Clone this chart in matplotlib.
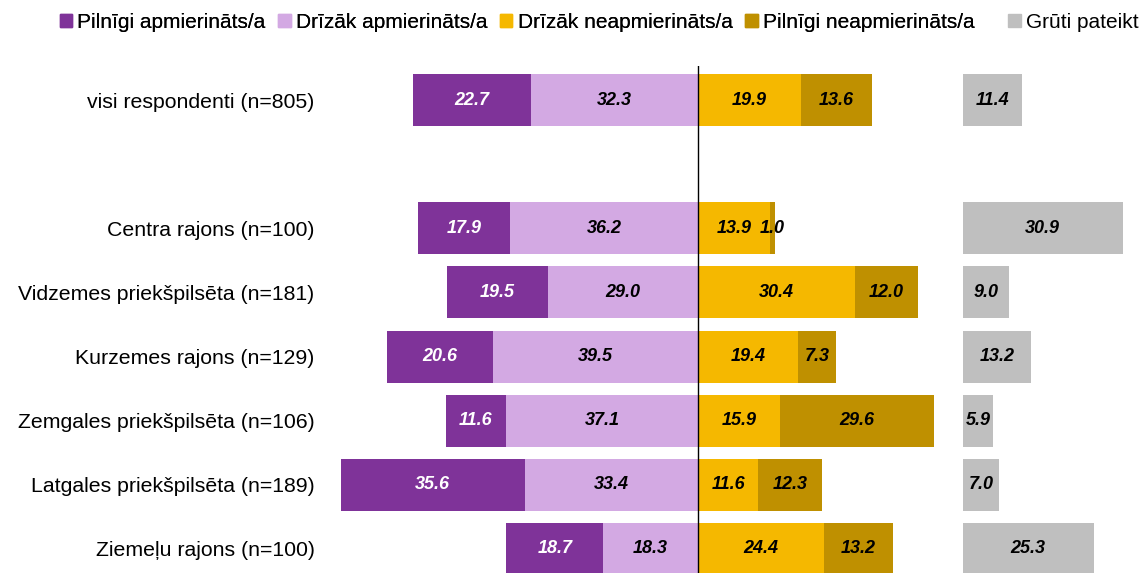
import matplotlib.pyplot as plt
from matplotlib.patches import Patch

plt.rcParams['font.family'] = ['Liberation Sans', 'DejaVu Sans']

# Dati
rindas = ['visi respondenti (n=805)', 'Centra rajons (n=100)',
          'Vidzemes priekšpilsēta (n=181)', 'Kurzemes rajons (n=129)',
          'Zemgales priekšpilsēta (n=106)', 'Latgales priekšpilsēta (n=189)',
          'Ziemeļu rajons (n=100)']
pilnigi_apm = [22.7, 17.9, 19.5, 20.6, 11.6, 35.6, 18.7]
drizak_apm = [32.3, 36.2, 29.0, 39.5, 37.1, 33.4, 18.3]
drizak_neapm = [19.9, 13.9, 30.4, 19.4, 15.9, 11.6, 24.4]
pilnigi_neapm = [13.6, 1.0, 12.0, 7.3, 29.6, 12.3, 13.2]
gruti = [11.4, 30.9, 9.0, 13.2, 5.9, 7.0, 25.3]
kategorijas = ['Pilnīgi apmierināts/a', 'Drīzāk apmierināts/a',
               'Drīzāk neapmierināts/a', 'Pilnīgi neapmierināts/a', 'Grūti pateikt']

krasas = ['#7F3399', '#D3A9E3', '#F5B800', '#BF9000', '#BFBFBF']
teksta_krasas = ['white', 'black', 'black', 'black', 'black']

# pozīcijas: pirmā rinda atsevišķi, tad atstarpe
y = [0, 2, 3, 4, 5, 6, 7]
h = 0.81
gruti_sakums = 51.1

fig = plt.figure(figsize=(11.4, 5.73), dpi=100)
ax = fig.add_axes([330 / 1140, 0, 810 / 1140, (573 - 66) / 573])

def segments(vertibas, sakums, k):
    ax.barh(y, vertibas, left=sakums, height=h, color=krasas[k], zorder=2)
    for yi, v, s in zip(y, vertibas, sakums):
        ax.text(s + v / 2, yi, f'{v:.1f}', ha='center', va='center',
                color=teksta_krasas[k], fontsize=13, fontweight='bold',
                fontstyle='italic', zorder=4)

# kreisā puse
segments(drizak_apm, [-v for v in drizak_apm], 1)
segments(pilnigi_apm, [-(a + b) for a, b in zip(pilnigi_apm, drizak_apm)], 0)
# labā puse
segments(drizak_neapm, [0] * len(y), 2)
segments(pilnigi_neapm, drizak_neapm, 3)
# grūti pateikt
segments(gruti, [gruti_sakums] * len(y), 4)

ax.axvline(0, color='black', lw=1, zorder=3)

ax.set_xlim(-(698 - 330) / 5.18, (1140 - 698) / 5.18)
ax.set_ylim(7 + 24 / 64.14, -(100 - 66) / 64.14)
ax.set_yticks(y)
ax.set_yticklabels(rindas, fontsize=15.3)
ax.tick_params(axis='y', length=0, pad=11)
ax.set_xticks([])
for s in ax.spines.values():
    s.set_visible(False)

rokturi = [Patch(color=c) for c in krasas]
leg_opts = dict(loc='upper left', frameon=False, fontsize=15, handlelength=0.6,
                handleheight=0.6, handletextpad=0.25, columnspacing=0.6)
leg1 = fig.legend(rokturi[:4], kategorijas[:4], bbox_to_anchor=(0.036, 1.01),
                  ncol=4, **leg_opts)
fig.add_artist(leg1)
fig.legend(rokturi[4:], kategorijas[4:], bbox_to_anchor=(0.868, 1.01), **leg_opts)

fig.savefig('out.png', dpi=100)
